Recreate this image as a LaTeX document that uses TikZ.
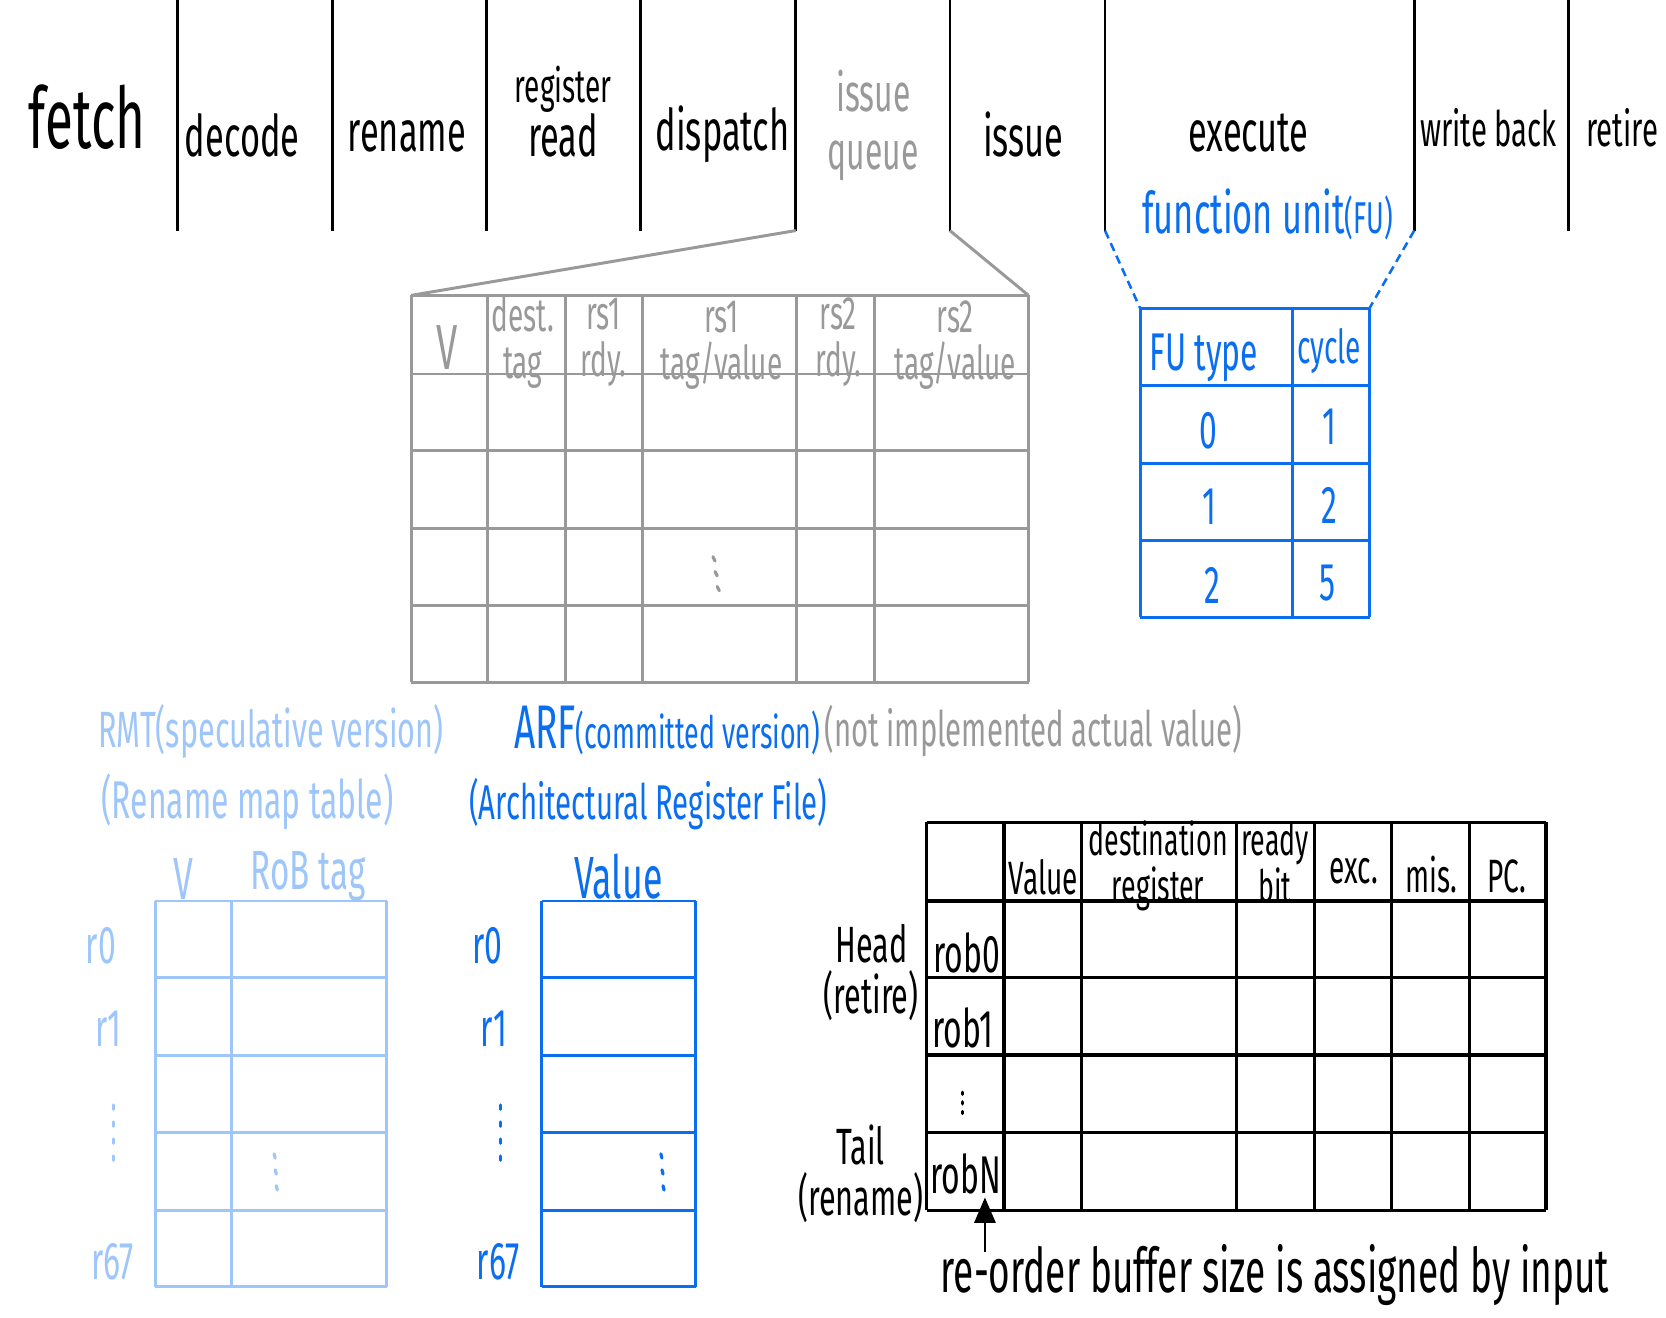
\documentclass[tikz,border=0pt]{standalone}
\usepackage{fontspec}
\usepackage{tikz}
\usetikzlibrary{arrows.meta,positioning}
\newfontfamily\handfont[FakeStretch=0.6]{Fira Sans}
\newcommand{\fsz}[2]{\fontsize{#1}{#2}\selectfont}
\definecolor{pipeblue}{HTML}{0A6EF0}
\definecolor{pipelight}{HTML}{9EC6FA}
\definecolor{pipegrey}{HTML}{999999}
\tikzset{
  hand/.style       = {inner sep=0pt, outer sep=0pt, align=center},
  stagelbl/.style   = {hand, font=\handfont\fsz{27}{31}},
  iqhead/.style     = {hand, text=pipegrey, font=\handfont\fsz{22}{22}},
  fuhead/.style     = {hand, text=pipeblue, font=\handfont\fsz{25}{28}},
  rmtlbl/.style     = {hand, text=pipelight, font=\handfont\fsz{25}{28}},
  arflbl/.style     = {hand, text=pipeblue, font=\handfont\fsz{25}{28}},
  roblbl/.style     = {hand, font=\handfont\fsz{22}{23}},
  %
  stageline/.style  = {draw=black, line width=1.3pt},
  iqgrid/.style     = {draw=pipegrey, line width=1.4pt},
  fugrid/.style     = {draw=pipeblue, line width=1.4pt},
  fuwedge/.style    = {draw=pipeblue, line width=1.2pt, dashed,
                       dash pattern=on 4pt off 2.5pt},
  rmtgrid/.style    = {draw=pipelight, line width=1.4pt},
  arfgrid/.style    = {draw=pipeblue, line width=1.4pt},
  robgrid/.style    = {draw=black, line width=1.5pt},
  dotmark/.style    = {line width=1.5pt, line cap=round},
  ptr/.style        = {-{Triangle[length=12pt,width=10pt]}, draw=black,
                       line width=1.2pt},
}
\begin{document}
\begin{tikzpicture}[x=0.5pt, y=-0.5pt]
  \useasboundingbox (0,0) rectangle (1568,1240);

  % ---------- pipeline stages --------------------------------------------
  \foreach \x in {167,313,458,603,749,894,1040,1331,1476}
    \draw[stageline] (\x,0) -- (\x,217);

  \node[stagelbl, font=\handfont\fsz{40}{40}] (fetch) at (82,110) {fetch};
  \node[stagelbl] (decode)   at (228,127) {decode};
  \node[stagelbl] (rename)   at (383,128) {rename};
  \node[stagelbl, font=\handfont\fsz{27}{25}] (regread) at (530,105)
    {{\fsz{22}{25}register}\\read};
  \node[stagelbl] (dispatch) at (680,126) {dispatch};
  \node[stagelbl, text=pipegrey, font=\handfont\fsz{25}{27}] (iqstage)
    at (822,118) {issue\\queue};
  \node[stagelbl] (issue)    at (963,127) {issue};
  \node[stagelbl] (execute)  at (1175,125) {execute};
  \node[stagelbl, font=\handfont\fsz{23}{26}] (wback) at (1401,120) {write back};
  \node[stagelbl, font=\handfont\fsz{23}{26}, anchor=west] (retire)
    at (1493,120) {retire};
  \node[fuhead, font=\handfont\fsz{27}{30}] (fustage) at (1193,202)
    {function unit{\fsz{21}{24}(FU)}};

  % ---------- issue queue --------------------------------------------------
  \coordinate (iqNW) at (387,278);
  \coordinate (iqNE) at (968,278);
  \draw[iqgrid] (749,217) -- (iqNW);
  \draw[iqgrid] (894,217) -- (iqNE);
  \foreach \x in {387,459,532,605,750,823,968}
    \draw[iqgrid] (\x,278) -- (\x,642);
  \foreach \y in {278,352,424,497,570,642}
    \draw[iqgrid] (387,\y) -- (968,\y);

  \node[iqhead, font=\handfont\fsz{30}{30}] (iqv) at (421,327) {V};
  \node[iqhead] (iqdest)  at (492,322) {dest.\\tag};
  \node[iqhead] (iqrdya)  at (568,322) {rs1\\rdy.};
  \node[iqhead] (iqvala)  at (679,325) {rs1\\tag/value};
  \node[iqhead] (iqrdyb)  at (789,322) {rs2\\rdy.};
  \node[iqhead] (iqvalb)  at (899,325) {rs2\\tag/value};
  \foreach \t in {0,1,2}
    \draw[dotmark, pipegrey] (671+2*\t,524+14*\t) -- ++(2,4);

  % ---------- function units -----------------------------------------------
  \coordinate (fuNW) at (1073,290);
  \coordinate (fuNE) at (1289,290);
  \draw[fuwedge] (1040,217) -- (fuNW);
  \draw[fuwedge] (1331,217) -- (fuNE);
  \foreach \x in {1073,1216,1289}
    \draw[fugrid] (\x,290) -- (\x,581);
  \foreach \y in {290,363,436,509,581}
    \draw[fugrid] (1073,\y) -- (1289,\y);

  \node[fuhead] (futype)  at (1133,337) {FU type};
  \node[fuhead, font=\handfont\fsz{22}{24}] (fucycle) at (1251,330) {cycle};
  \node[fuhead] (fua) at (1137,405) {0};
  \node[fuhead] (fub) at (1138,477) {1};
  \node[fuhead] (fuc) at (1141,551) {2};
  \node[fuhead] (cya) at (1251,402) {1};
  \node[fuhead] (cyb) at (1251,476) {2};
  \node[fuhead] (cyc) at (1249,549) {5};

  % ---------- rename map table ---------------------------------------------
  \node[rmtlbl, font=\handfont\fsz{24}{26}] (rmttitle) at (255,688)
    {RMT(speculative version)};
  \node[rmtlbl] (rmtlong) at (233,755) {(Rename map table)};
  \node[rmtlbl, font=\handfont\fsz{28}{28}] (rmtv) at (173,827) {V};
  \node[rmtlbl, font=\handfont\fsz{26}{28}] (rmttag) at (290,825) {RoB tag};
  \foreach \x in {146,218,364}
    \draw[rmtgrid] (\x,848) -- (\x,1211);
  \foreach \y in {848,920,993,1066,1139,1211}
    \draw[rmtgrid] (146,\y) -- (364,\y);
  \node[rmtlbl] (rmtr0)  at (95,890)   {r0};
  \node[rmtlbl] (rmtr1)  at (102,968)  {r1};
  \node[rmtlbl] (rmtr67) at (106,1188) {r67};
  \foreach \t in {0,1,2,3}
    \draw[dotmark, pipelight] (107,1040+16*\t) -- ++(0,4);
  \foreach \t in {0,1,2}
    \draw[dotmark, pipelight] (258+\t,1086+15*\t) -- ++(1,4);

  % ---------- architectural register file ----------------------------------
  \node[arflbl, anchor=west, font=\handfont\fsz{21}{24}] (arftitle) at (484,688)
    {{\fsz{29}{30}ARF}(committed version)};
  \node[hand, text=pipegrey, font=\handfont\fsz{23}{26}, right=2pt of arftitle]
    (arfnote) {(not implemented actual value)};
  \node[arflbl, font=\handfont\fsz{23}{26}] (arflong) at (610,757)
    {(Architectural Register File)};
  \node[arflbl, font=\handfont\fsz{28}{28}] (arfval) at (582,825) {Value};
  \foreach \x in {510,655}
    \draw[arfgrid] (\x,848) -- (\x,1211);
  \foreach \y in {848,920,993,1066,1139,1211}
    \draw[arfgrid] (510,\y) -- (655,\y);
  \node[arflbl] (arfr0)  at (459,890)   {r0};
  \node[arflbl] (arfr1)  at (465,968)   {r1};
  \node[arflbl] (arfr67) at (469,1188)  {r67};
  \foreach \t in {0,1,2,3}
    \draw[dotmark, pipeblue] (471,1040+16*\t) -- ++(0,4);
  \foreach \t in {0,1,2}
    \draw[dotmark, pipeblue] (622+\t,1086+15*\t) -- ++(1,4);

  % ---------- re-order buffer ----------------------------------------------
  \foreach \x in {872,945,1018,1164,1237,1310,1383,1455}
    \draw[robgrid] (\x,774) -- (\x,1139);
  \foreach \y in {774,848,920,993,1066,1139}
    \draw[robgrid] (872,\y) -- (1455,\y);

  \node[roblbl] (robval)  at (982,826)  {Value};
  \node[roblbl, font=\handfont\fsz{21}{22}] (robdest) at (1090,815)
    {destination\\register};
  \node[roblbl, font=\handfont\fsz{21}{22}] (robrdy) at (1200,812) {ready\\bit};
  \node[roblbl] (robexc)  at (1274,820) {exc.};
  \node[roblbl] (robmis)  at (1347,823) {mis.};
  \node[roblbl] (robpc)   at (1418,825) {PC.};

  \node[roblbl, font=\handfont\fsz{25}{26}] (rob0) at (910,897)  {rob0};
  \node[roblbl, font=\handfont\fsz{25}{26}] (rob1) at (906,967)  {rob1};
  \node[roblbl, font=\handfont\fsz{25}{26}] (robN) at (909,1105) {robN};
  \foreach \t in {0,1,2}
    \draw[dotmark] (906,1028+9*\t) -- ++(0,2);

  \node[roblbl, font=\handfont\fsz{24}{24}] (robhead) at (820,915)
    {Head\\(retire)};
  \node[roblbl, font=\handfont\fsz{24}{24}] (robtail) at (810,1105)
    {Tail\\(rename)};

  \node[hand, font=\handfont\fsz{29}{30}] (robnote) at (1200,1200)
    {re-order buffer size is assigned by input};
  \coordinate (robNtip)  at (927,1127);
  \coordinate (robNfoot) at (927,1178);
  \draw[ptr] (robNfoot) -- (robNtip);

\end{tikzpicture}
\end{document}
